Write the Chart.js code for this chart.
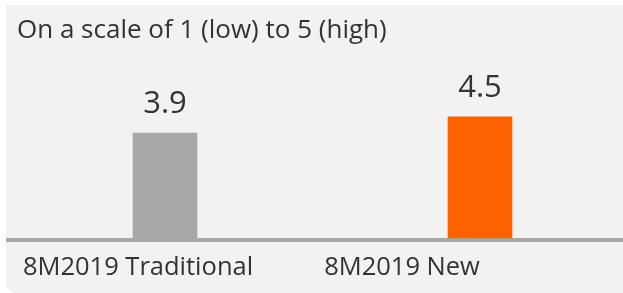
<!DOCTYPE html>
<html>
<head>
<meta charset="utf-8">
<script src="https://cdn.jsdelivr.net/npm/chart.js@4"></script>
<style>
  html, body { margin: 0; padding: 0; background: #fff; overflow: hidden; }
  #wrap { width: 623px; height: 293px; position: relative; }
</style>
</head>
<body>
<div id="wrap"><canvas id="myChart"></canvas></div>
<script>
var categories = ['8M2019 Traditional', '8M2019 New'];
var scores = [3.9, 4.5];
var barColors = ['#a8a8a8', '#ff6200'];
var titleText = 'On a scale of 1 (low) to 5 (high)';

(function() {
    var textColor = '#333333';
    var fontFamily = '"Open Sans"';

    // grey panel behind everything, square top, rounded bottom-left
    var panelBg = {
        id: 'panelBg',
        beforeDraw: function(chart) {
            var ctx = chart.ctx;
            ctx.save();
            ctx.fillStyle = '#f2f2f2';
            ctx.beginPath();
            ctx.roundRect(6, 5, 700, 288, [0, 0, 0, 10]);
            ctx.fill();
            ctx.font = '26px ' + fontFamily;
            ctx.fillStyle = textColor;
            ctx.textBaseline = 'alphabetic';
            ctx.textAlign = 'left';
            ctx.fillText(titleText, 17, 38);
            ctx.restore();
        }
    };

    // base line + category names + value labels
    var decorations = {
        id: 'decorations',
        beforeDatasetsDraw: function(chart) {
            var ctx = chart.ctx;
            var y = chart.scales.y.getPixelForValue(0);
            ctx.save();
            ctx.strokeStyle = '#a8a8a8';
            ctx.lineWidth = 4;
            ctx.beginPath();
            ctx.moveTo(6, y + 2);
            ctx.lineTo(623, y + 2);
            ctx.stroke();
            ctx.restore();
        },
        afterDatasetsDraw: function(chart, args, opts) {
            var ctx = chart.ctx;
            var xs = chart.scales.x;
            var meta = chart.getDatasetMeta(0);
            ctx.save();
            ctx.fillStyle = textColor;
            ctx.textAlign = 'center';
            ctx.textBaseline = 'alphabetic';
            ctx.font = '31px ' + fontFamily;
            meta.data.forEach(function(bar, i) {
                ctx.fillText(scores[i].toFixed(1), bar.x, bar.y - 20);
            });
            ctx.font = '25.5px ' + fontFamily;
            categories.forEach(function(c, i) {
                ctx.fillText(c, xs.getPixelForValue(i) + opts.labelShift[i], 275);
            });
            ctx.restore();
        }
    };

    new Chart(document.getElementById('myChart'), {
        type: 'bar',
        data: {
            labels: categories,
            datasets: [{
                data: scores,
                backgroundColor: barColors,
                barThickness: 64,
                borderWidth: 0,
                clip: false
            }]
        },
        options: {
            responsive: true,
            maintainAspectRatio: false,
            animation: false,
            layout: { padding: { left: 165, right: 143, top: 103.5, bottom: 55 } },
            scales: {
                x: { display: false, offset: false },
                y: { display: false, min: 0, max: 5 }
            },
            plugins: {
                legend: { display: false },
                tooltip: { enabled: false },
                decorations: { labelShift: [-27, -78] }
            }
        },
        plugins: [panelBg, decorations]
    });
})();
</script>
</body>
</html>
